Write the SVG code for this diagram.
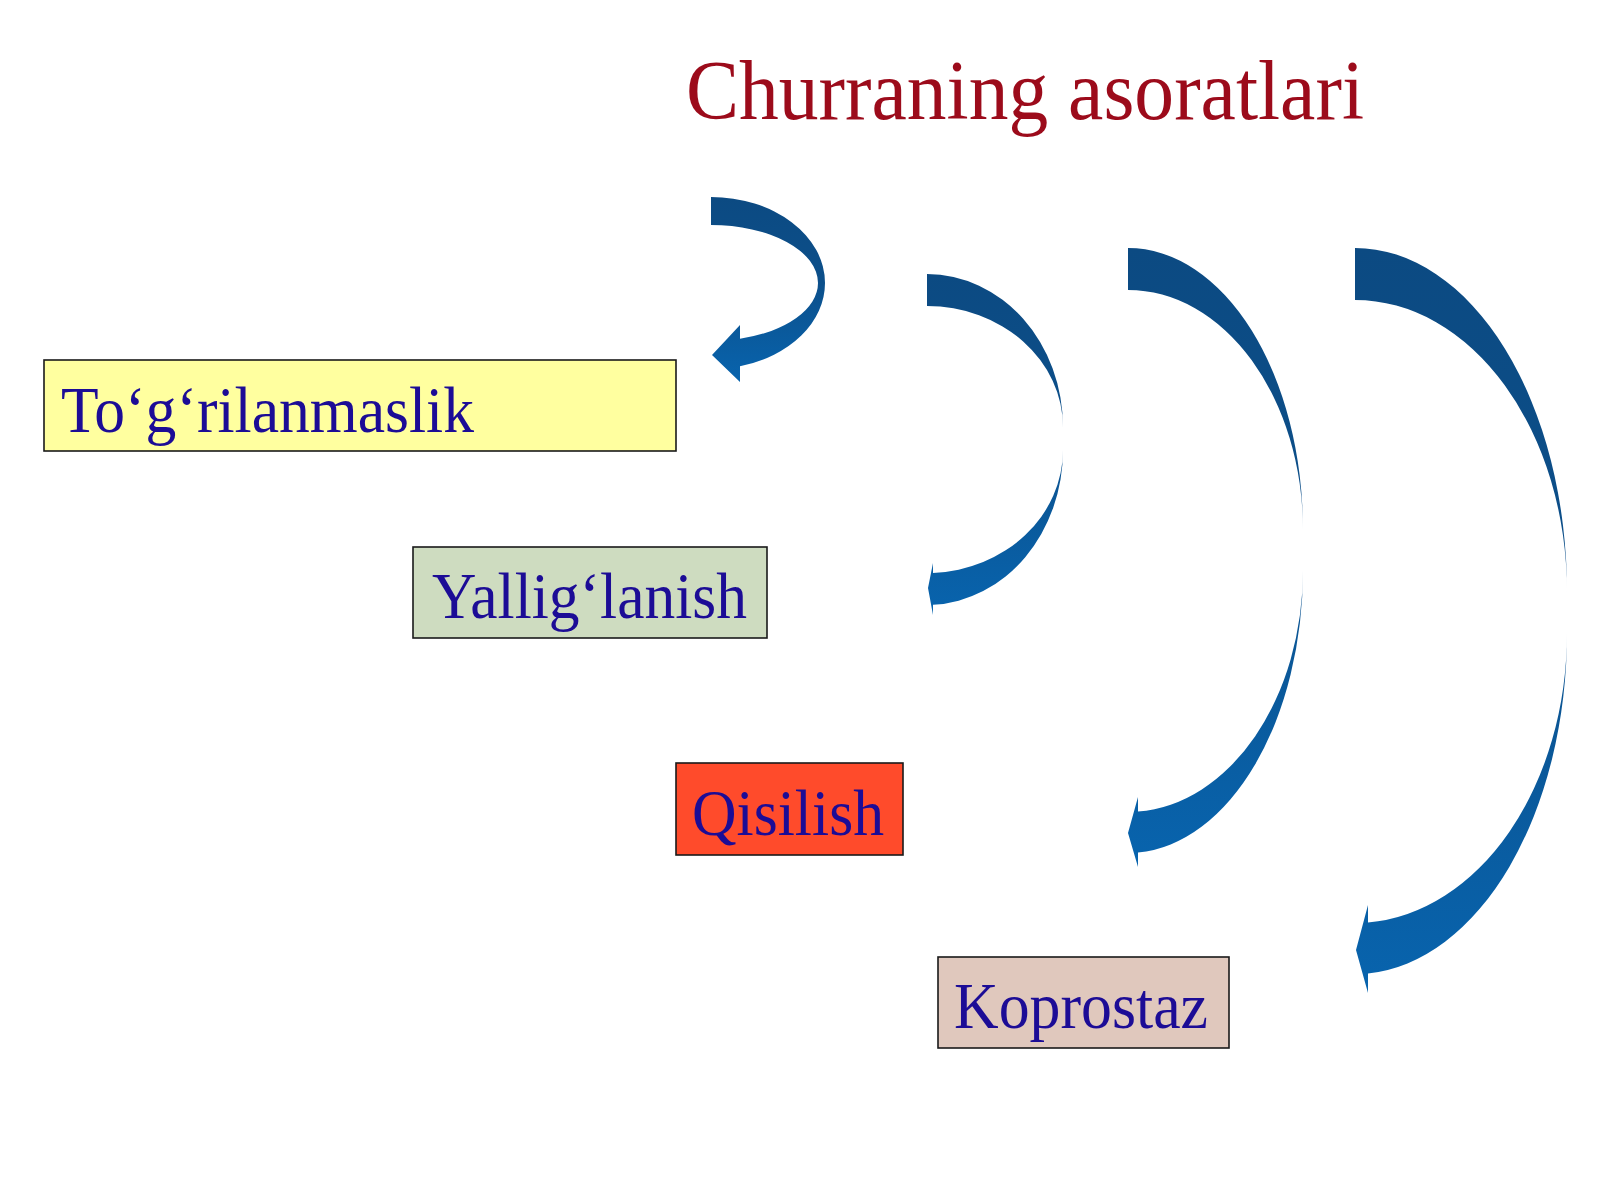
<svg xmlns="http://www.w3.org/2000/svg" width="1600" height="1200" viewBox="0 0 1600 1200">
  <defs>
    <linearGradient id="arrowGrad" x1="0" y1="0" x2="0" y2="1">
      <stop offset="0" stop-color="#0C4A82"/>
      <stop offset="0.45" stop-color="#0C4F8A"/>
      <stop offset="1" stop-color="#0864AE"/>
    </linearGradient>
  </defs>
  <style>
    .box { stroke: #1a1a1a; stroke-width: 1.6; }
    .lbl { font-family: "Liberation Serif", "Times New Roman", serif; font-size: 66px; fill: #1C0C96; }
    .title { font-family: "Liberation Serif", "Times New Roman", serif; font-size: 85px; fill: #9C0B1B; }
    .arrow { fill: url(#arrowGrad); stroke: none; }
  </style>
  <rect width="1600" height="1200" fill="#FFFFFF"/>

  <text class="title" x="686" y="119" textLength="678" lengthAdjust="spacingAndGlyphs">Churraning asoratlari</text>

  <g id="connectors">
    <path id="arrow1" class="arrow" d="M711,197 A114,86 0 0 1 825,283 A114,86 0 0 1 740,366.2 L740,382 L712,355 L740,325 L740,338.8 A107,58 0 0 0 818,283 A107,58 0 0 0 711,225 Z"/>
    <path id="arrow2" class="arrow" d="M927,274 A136,153 0 0 1 1063,427 A136,121 0 0 0 927,306 Z M1063,450 A136,155 0 0 1 933,604.8 L933,615 L928,588 L933,563 L933,572.9 A136,123 0 0 0 1063,450 Z"/>
    <path id="arrow3" class="arrow" d="M1128,248 A175,282 0 0 1 1303,530 A175,240 0 0 0 1128,290 Z M1303,570 A175,283 0 0 1 1138,852.5 L1138,867 L1128,833 L1138,797 L1138,811.6 A175,242 0 0 0 1303,570 Z"/>
    <path id="arrow4" class="arrow" d="M1355,248 A212,344 0 0 1 1567,592 A212,292 0 0 0 1355,300 Z M1567,633 A212,341 0 0 1 1368,973.4 L1368,993 L1356,950 L1368,905 L1368,922.5 A212,290 0 0 0 1567,633 Z"/>
  </g>

  <g id="node-togrilanmaslik">
    <rect class="box" x="44" y="360" width="632" height="91" fill="#FFFF9F"/>
    <text class="lbl" x="61" y="432" textLength="413" lengthAdjust="spacingAndGlyphs">To‘g‘rilanmaslik</text>
  </g>
  <g id="node-yalliglanish">
    <rect class="box" x="413" y="547" width="354" height="91" fill="#CEDCC0"/>
    <text class="lbl" x="432" y="618" textLength="315" lengthAdjust="spacingAndGlyphs">Yallig‘lanish</text>
  </g>
  <g id="node-qisilish">
    <rect class="box" x="676" y="763" width="227" height="92" fill="#FF4B2B"/>
    <text class="lbl" x="692" y="835" textLength="192" lengthAdjust="spacingAndGlyphs">Qisilish</text>
  </g>
  <g id="node-koprostaz">
    <rect class="box" x="938" y="957" width="291" height="91" fill="#E0C8BD"/>
    <text class="lbl" x="954" y="1028" textLength="254" lengthAdjust="spacingAndGlyphs">Koprostaz</text>
  </g>
</svg>
